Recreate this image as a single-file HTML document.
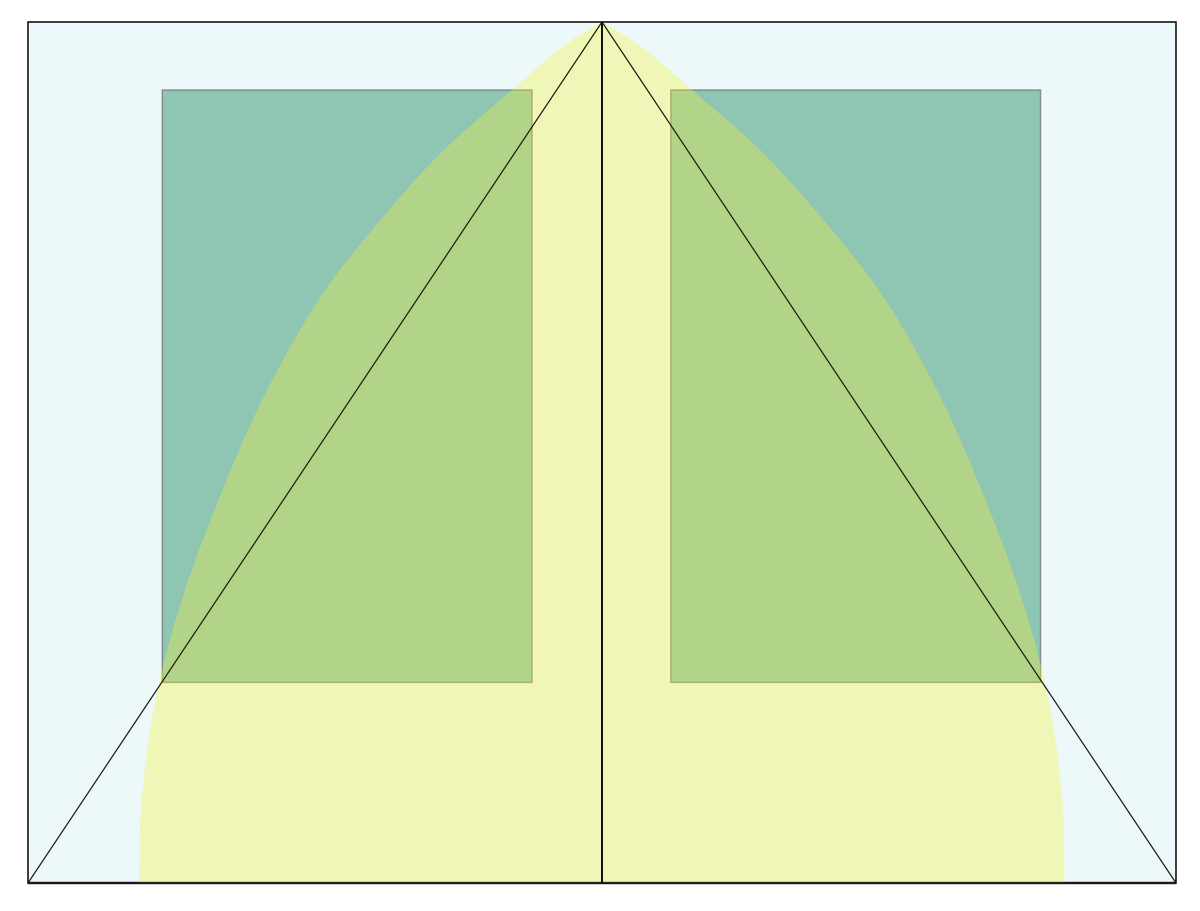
<!DOCTYPE html>
<html><head><meta charset="utf-8"><style>body{margin:0;background:#fff}svg{display:block}</style></head>
<body>
<svg id="chart" width="1200" height="911" viewBox="0 0 1200 911" xmlns="http://www.w3.org/2000/svg">
<rect x="28" y="22" width="1148" height="861" fill="#ecf8fa"/>
<g id="marks"></g>
<rect x="28" y="22" width="1148" height="861" fill="none" stroke="#111" stroke-width="1.6"/>
</svg>
<script>
// data (unit coordinates: x 0..1 across, y 0..1 top to bottom)
const rectX0 = [0.117, 0.560];
const rectX1 = [0.439, 0.882];
const rectY0 = [0.079, 0.079];
const rectY1 = [0.767, 0.767];
const curveDepth = [0, 0.0209, 0.0441, 0.0790, 0.149, 0.230, 0.323, 0.439, 0.555, 0.671, 0.787, 0.904, 1.0];
const curveHalfWidth = [0, 0.0261, 0.0488, 0.0784, 0.138, 0.193, 0.247, 0.296, 0.334, 0.366, 0.389, 0.401, 0.403];
const apexX = 0.5;

const X0 = 28, W = 1148, Y0 = 22, H = 861;
const sx = v => X0 + v * W;
const sy = v => Y0 + v * H;
const NS = 'http://www.w3.org/2000/svg';
const g = document.getElementById('marks');
function mk(tag, attrs) { const e = document.createElementNS(NS, tag); for (const k in attrs) e.setAttribute(k, attrs[k]); g.appendChild(e); return e; }

for (let i = 0; i < rectX0.length; i++) {
  const r = mk('rect', {x: sx(rectX0[i]), y: sy(rectY0[i]), width: sx(rectX1[i]) - sx(rectX0[i]), height: sy(rectY1[i]) - sy(rectY0[i]), fill: '#8fc5b3', stroke: 'rgba(110,110,110,0.7)', 'stroke-width': 1.5});
  
  
}

const base = mk('line', {x1: sx(0), y1: sy(1), x2: sx(1), y2: sy(1), stroke: '#3a3a3a', 'stroke-width': 2.5});



// smooth Catmull-Rom path through sampled boundary points
function smooth(P) {
  let d = 'M' + P[0][0] + ',' + P[0][1];
  for (let i = 0; i < P.length - 1; i++) {
    const p0 = P[Math.max(i - 1, 0)], p1 = P[i], p2 = P[i + 1], p3 = P[Math.min(i + 2, P.length - 1)];
    const c1 = [p1[0] + (p2[0] - p0[0]) / 6, p1[1] + (p2[1] - p0[1]) / 6];
    const c2 = [p2[0] - (p3[0] - p1[0]) / 6, p2[1] - (p3[1] - p1[1]) / 6];
    d += ' C' + c1[0] + ',' + c1[1] + ' ' + c2[0] + ',' + c2[1] + ' ' + p2[0] + ',' + p2[1];
  }
  return d;
}
const L = [], R = [];
for (let i = 0; i < curveDepth.length; i++) {
  L.push([sx(apexX - curveHalfWidth[i]), sy(curveDepth[i])]);
  R.push([sx(apexX + curveHalfWidth[i]), sy(curveDepth[i])]);
}
const dL = smooth(L);
const dR = smooth(R.slice().reverse()).replace(/^M/, 'L');
const shape = mk('path', {d: dL + ' ' + dR + ' Z', fill: '#f5f231', 'fill-opacity': 0.33});



const tri = mk('polyline', {points: sx(0)+','+sy(1)+' '+sx(apexX)+','+sy(0)+' '+sx(1)+','+sy(1), fill: 'none', stroke: '#1a1a0a', 'stroke-width': 1.2});



const vl = mk('line', {x1: sx(apexX), y1: sy(0), x2: sx(apexX), y2: sy(1), stroke: '#111', 'stroke-width': 2});


</script>
</body></html>
